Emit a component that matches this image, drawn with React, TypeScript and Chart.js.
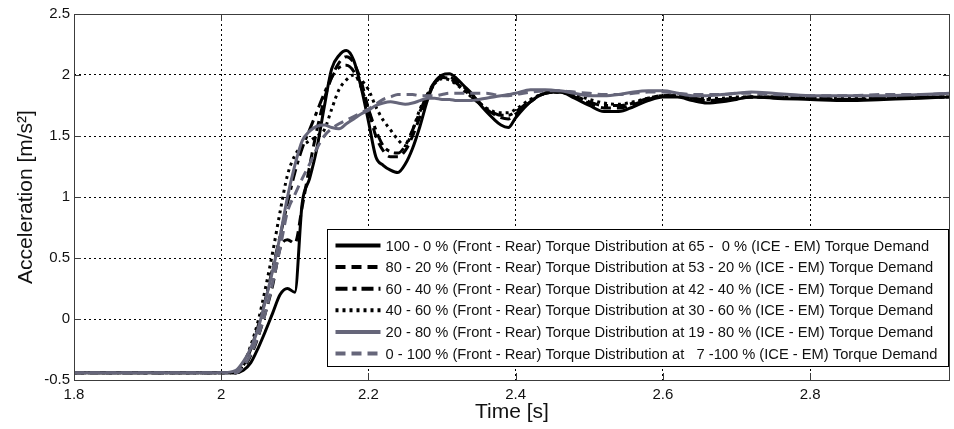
import React, { useEffect, useRef } from "react";
import { Chart, registerables } from "chart.js";

Chart.register(...registerables);

const TIME = [
  1.8, 2.0, 2.02, 2.03, 2.04, 2.05, 2.06, 2.07, 2.08, 2.09, 2.1, 2.11, 2.12, 2.13, 2.14, 2.15, 2.16, 2.17, 2.18, 2.19,
  2.2, 2.21, 2.22, 2.23, 2.24, 2.25, 2.26, 2.27, 2.28, 2.29, 2.3, 2.31, 2.32, 2.33, 2.34, 2.35, 2.36, 2.37, 2.38, 2.39,
  2.4, 2.42, 2.44, 2.46, 2.48, 2.5, 2.52, 2.54, 2.56, 2.58, 2.6, 2.62, 2.64, 2.66, 2.68, 2.7, 2.72, 2.75, 2.8, 2.85,
  2.9, 2.95, 2.99,
];

const S_100_0 = [
  -0.44, -0.44, -0.44, -0.42, -0.36, -0.24, -0.1, 0.05, 0.2, 0.25, 0.22, 0.95, 1.15, 1.4, 1.74, 2.05, 2.16, 2.2, 2.12, 1.9,
  1.62, 1.33, 1.26, 1.22, 1.2, 1.27, 1.4, 1.58, 1.79, 1.94, 2.0, 2.01, 1.97, 1.91, 1.85, 1.77, 1.7, 1.64, 1.59, 1.57,
  1.65, 1.78, 1.85, 1.86, 1.81, 1.75, 1.7, 1.7, 1.74, 1.79, 1.82, 1.82, 1.79, 1.77, 1.78, 1.8, 1.82, 1.81, 1.8, 1.79,
  1.8, 1.81, 1.82,
];

const S_80_20 = [
  -0.44, -0.44, -0.44, -0.4, -0.3, -0.15, 0.05, 0.28, 0.58, 0.65, 0.62, 0.92, 1.25, 1.55, 1.8, 1.98, 2.1, 2.15, 2.1, 1.95,
  1.72, 1.5, 1.38, 1.33, 1.33, 1.38, 1.5, 1.66, 1.82, 1.93, 1.98, 1.98, 1.95, 1.9, 1.84, 1.78, 1.72, 1.68, 1.65, 1.64,
  1.68, 1.78, 1.85, 1.86, 1.82, 1.77, 1.73, 1.73, 1.76, 1.8, 1.83, 1.83, 1.81, 1.79, 1.8, 1.81, 1.82, 1.82, 1.81, 1.8,
  1.81, 1.82, 1.82,
];

const S_60_40 = [
  -0.44, -0.44, -0.44, -0.38, -0.25, -0.06, 0.16, 0.42, 0.68, 0.95, 1.2, 1.4, 1.55, 1.7, 1.85, 1.98, 2.06, 2.08, 2.03, 1.9,
  1.72, 1.55, 1.42, 1.37, 1.36, 1.42, 1.55, 1.7, 1.84, 1.94, 1.98, 1.97, 1.93, 1.88, 1.82, 1.77, 1.72, 1.69, 1.67, 1.67,
  1.7, 1.79, 1.85, 1.86, 1.83, 1.78, 1.75, 1.75, 1.77, 1.81, 1.83, 1.83, 1.81, 1.8, 1.8, 1.81, 1.82, 1.82, 1.81, 1.8,
  1.81, 1.82, 1.82,
];

const S_40_60 = [
  -0.44, -0.44, -0.44, -0.37, -0.22, -0.02, 0.25, 0.55, 0.88, 1.18, 1.34, 1.42, 1.46, 1.5, 1.55, 1.72, 1.88, 1.96, 2.0, 1.96,
  1.88, 1.74, 1.63, 1.55, 1.47, 1.42, 1.55, 1.72, 1.84, 1.93, 1.97, 1.96, 1.92, 1.87, 1.82, 1.77, 1.73, 1.7, 1.69, 1.69,
  1.72, 1.8, 1.85, 1.86, 1.84, 1.8, 1.77, 1.76, 1.78, 1.81, 1.83, 1.83, 1.82, 1.81, 1.81, 1.82, 1.82, 1.82, 1.81, 1.81,
  1.81, 1.82, 1.82,
];

const S_20_80 = [
  -0.44, -0.44, -0.42, -0.35, -0.24, -0.08, 0.15, 0.4, 0.68, 1.0, 1.26, 1.46, 1.54, 1.58, 1.59, 1.57, 1.56, 1.6, 1.64, 1.68,
  1.71, 1.75, 1.77, 1.78, 1.77, 1.76, 1.77, 1.79, 1.81, 1.81, 1.8, 1.8, 1.79, 1.79, 1.79, 1.8, 1.81, 1.82, 1.83, 1.84,
  1.85, 1.88, 1.88, 1.87, 1.85, 1.83, 1.83, 1.84, 1.86, 1.87, 1.87, 1.85, 1.83, 1.83, 1.84, 1.85, 1.86, 1.85, 1.83, 1.83,
  1.83, 1.84, 1.85,
];

const S_0_100 = [
  -0.44, -0.44, -0.44, -0.39, -0.29, -0.14, 0.05, 0.3, 0.58, 0.88, 1.02, 1.15, 1.27, 1.4, 1.5, 1.56, 1.6, 1.63, 1.66, 1.69,
  1.72, 1.76, 1.8, 1.82, 1.84, 1.84, 1.84, 1.83, 1.83, 1.83, 1.84, 1.85, 1.85, 1.85, 1.85, 1.85, 1.85, 1.84, 1.83, 1.83,
  1.84, 1.86, 1.87, 1.87, 1.86, 1.85, 1.84, 1.84, 1.85, 1.86, 1.86, 1.85, 1.84, 1.84, 1.84, 1.85, 1.85, 1.84, 1.83, 1.83,
  1.84, 1.84, 1.85,
];

const SERIES_LABELS = [
  "100 - 0 % (Front - Rear) Torque Distribution at 65 -  0 % (ICE - EM) Torque Demand",
  "80 - 20 % (Front - Rear) Torque Distribution at 53 - 20 % (ICE - EM) Torque Demand",
  "60 - 40 % (Front - Rear) Torque Distribution at 42 - 40 % (ICE - EM) Torque Demand",
  "40 - 60 % (Front - Rear) Torque Distribution at 30 - 60 % (ICE - EM) Torque Demand",
  "20 - 80 % (Front - Rear) Torque Distribution at 19 - 80 % (ICE - EM) Torque Demand",
  "0 - 100 % (Front - Rear) Torque Distribution at   7 -100 % (ICE - EM) Torque Demand",
];

const X_TICKS = [1.8, 2, 2.2, 2.4, 2.6, 2.8];
const Y_TICKS = [-0.5, 0, 0.5, 1, 1.5, 2, 2.5];
const X_TITLE = "Time [s]";
const Y_TITLE = "Acceleration [m/s\u00B2]";

const BLACK = "#000000";
const GRAY = "#66667a";
const FONT = "'Liberation Sans', Arial, sans-serif";

const SERIES = [S_100_0, S_80_20, S_60_40, S_40_60, S_20_80, S_0_100];
const COLORS = [BLACK, BLACK, BLACK, BLACK, GRAY, GRAY];
const DASHES: number[][] = [[], [10, 6], [12, 5, 4, 5], [3, 4], [], [10, 6]];

const matlabPlugin = {
  id: "matlabFrame",
  afterDraw(chart: any) {
    const ctx = chart.ctx as CanvasRenderingContext2D;
    const { left, right, top, bottom } = chart.chartArea;
    const xs = chart.scales.x;
    const ys = chart.scales.y;
    ctx.save();
    ctx.strokeStyle = "#3c3c3c";
    ctx.lineWidth = 1;
    ctx.setLineDash([]);
    ctx.strokeRect(Math.round(left) + 0.5, Math.round(top) + 0.5, Math.round(right - left) - 1, Math.round(bottom - top));
    const tl = 7;
    ctx.beginPath();
    X_TICKS.forEach((v) => {
      const px = Math.round(xs.getPixelForValue(v)) + 0.5;
      ctx.moveTo(px, bottom);
      ctx.lineTo(px, bottom - tl);
      ctx.moveTo(px, top);
      ctx.lineTo(px, top + tl);
    });
    Y_TICKS.forEach((v) => {
      const py = Math.round(ys.getPixelForValue(v)) + 0.5;
      ctx.moveTo(left, py);
      ctx.lineTo(left + tl, py);
      ctx.moveTo(right, py);
      ctx.lineTo(right - tl, py);
    });
    ctx.stroke();

    const boxW = 621;
    const boxH = 137;
    const bx = Math.round(right - 2 - boxW) + 0.5;
    const by = Math.round(bottom - 14 - boxH) + 0.5;
    ctx.fillStyle = "#ffffff";
    ctx.fillRect(bx, by, boxW, boxH);
    ctx.strokeStyle = "#000000";
    ctx.lineWidth = 1;
    ctx.strokeRect(bx, by, boxW, boxH);
    ctx.font = `14.7px ${FONT}`;
    ctx.textBaseline = "middle";
    ctx.textAlign = "left";
    chart.data.datasets.forEach((ds: any, i: number) => {
      const y = by + 16 + i * 21.6;
      ctx.save();
      ctx.strokeStyle = ds.borderColor;
      ctx.lineWidth = 4;
      ctx.setLineDash(ds.borderDash || []);
      ctx.beginPath();
      ctx.moveTo(bx + 8, y);
      ctx.lineTo(bx + 53, y);
      ctx.stroke();
      ctx.restore();
      ctx.fillStyle = "#111111";
      ctx.fillText(ds.label, bx + 58, y + 1);
    });
    ctx.restore();
  },
};

export default function App() {
  const canvasRef = useRef<HTMLCanvasElement | null>(null);

  useEffect(() => {
    document.body.style.margin = "0";
    const canvas = canvasRef.current;
    if (!canvas) return;
    const datasets = SERIES.map((vals, i) => ({
      label: SERIES_LABELS[i],
      data: TIME.map((t, k) => ({ x: t, y: vals[k] })),
      borderColor: COLORS[i],
      backgroundColor: COLORS[i],
      borderWidth: 3,
      borderDash: DASHES[i],
      pointRadius: 0,
      cubicInterpolationMode: "monotone" as const,
      fill: false,
      order: SERIES.length - i,
    }));
    const chart = new Chart(canvas, {
      type: "line",
      data: { datasets },
      options: {
        animation: false,
        responsive: false,
        devicePixelRatio: 1,
        layout: { padding: { left: 0, top: 14, right: 4, bottom: 0 } },
        plugins: { legend: { display: false }, tooltip: { enabled: false } },
        scales: {
          x: {
            type: "linear",
            min: 1.8,
            max: 2.99,
            afterBuildTicks: (scale: any) => {
              scale.ticks = X_TICKS.map((v) => ({ value: v }));
            },
            afterFit: (scale: any) => {
              scale.height = 49;
            },
            ticks: {
              color: "#111111",
              font: { family: FONT, size: 15 },
              padding: 6,
              maxRotation: 0,
              autoSkip: false,
              callback: (v: any) => String(Number(v)),
            },
            grid: { color: "#000000", lineWidth: 1, drawTicks: false },
            border: { display: false, dash: [2, 3] },
            title: {
              display: true,
              text: X_TITLE,
              color: "#111111",
              font: { family: FONT, size: 21 },
              padding: { top: 0, bottom: 4 },
            },
          },
          y: {
            type: "linear",
            min: -0.5,
            max: 2.5,
            afterBuildTicks: (scale: any) => {
              scale.ticks = Y_TICKS.map((v) => ({ value: v }));
            },
            afterFit: (scale: any) => {
              scale.width = 74;
            },
            ticks: {
              color: "#111111",
              font: { family: FONT, size: 15 },
              padding: 4,
              autoSkip: false,
              callback: (v: any) => String(Number(v)),
            },
            grid: { color: "#000000", lineWidth: 1, drawTicks: false },
            border: { display: false, dash: [2, 3] },
            title: {
              display: true,
              text: Y_TITLE,
              color: "#111111",
              font: { family: FONT, size: 21 },
              padding: { top: 14, bottom: 0 },
            },
          },
        },
      },
      plugins: [matlabPlugin],
    });
    return () => chart.destroy();
  }, []);

  return (
    <div style={{ width: 954, height: 429 }}>
      <canvas ref={canvasRef} width={954} height={429} style={{ display: "block" }} />
    </div>
  );
}
